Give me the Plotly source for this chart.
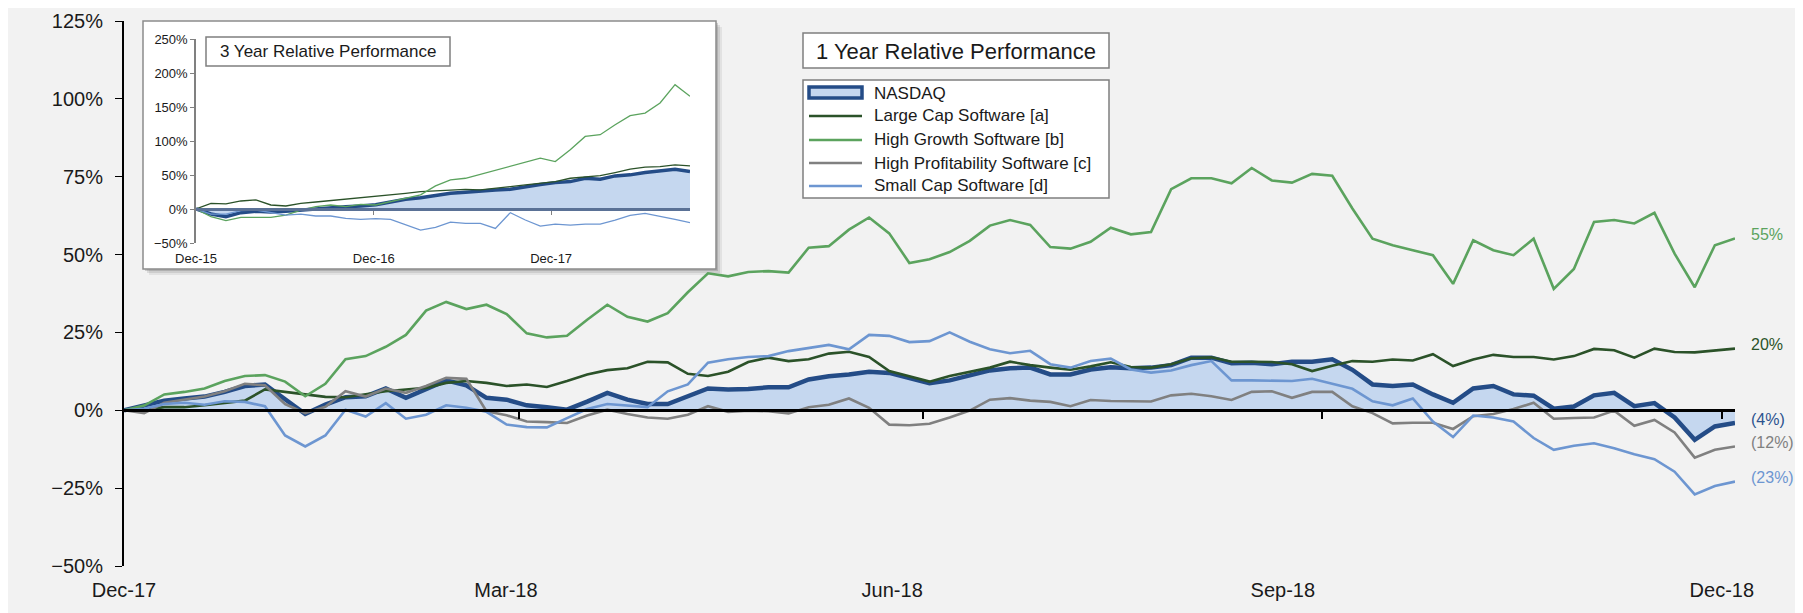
import pandas as pd
import plotly.graph_objects as go

# ---- 1 year relative performance (%), Dec-17 .. Dec-18 ----
dates_1y = pd.date_range("2017-12-29", "2018-12-31", periods=81)

nasdaq_1y = [0, 1.5, 3.1, 3.8, 4.4, 5.9, 7.8, 8.3, 3.4, -1.2, 1.8, 4.2, 4.5, 7.0, 4.0, 6.7, 9.6, 8.0, 4.0, 3.4,
             1.6, 1.0, 0.2, 2.8, 5.6, 3.4, 2.0, 2.0, 4.5, 7.0, 6.7, 6.8, 7.4, 7.4, 9.9, 10.9, 11.5, 12.4, 12.0,
             10.2, 8.7, 9.6, 11.3, 12.8, 13.5, 13.7, 11.5, 11.5, 13.1, 13.8, 13.5, 13.7, 14.5, 16.9, 16.9, 15.1, 15.3, 14.8,
             15.6, 15.6, 16.4, 13.0, 8.3, 7.8, 8.3, 5.1, 2.4, 7.0, 7.8, 5.1, 4.7, 0.5, 1.2, 4.8, 5.6, 1.3, 2.3, -2.3,
             -9.5, -5.2, -4.1]
large_cap_1y = [0, 0.1, 1.0, 1.0, 1.6, 2.4, 3.1, 6.7, 5.9, 5.3, 4.3, 4.2, 5.1, 6.1, 6.7, 7.2, 8.8, 9.4, 8.8, 7.8,
                8.3, 7.5, 9.4, 11.5, 12.9, 13.5, 15.6, 15.4, 11.7, 11.0, 12.4, 15.5, 16.9, 15.8, 16.4, 18.2, 18.8, 17.1, 12.6,
                11.0, 9.2, 11.0, 12.4, 13.7, 15.6, 14.5, 13.7, 13.0, 14.1, 15.4, 13.9, 13.7, 14.8, 16.7, 17.0, 15.6, 15.6, 15.5,
                14.8, 12.6, 14.3, 15.8, 15.6, 16.3, 16.0, 18.0, 14.2, 16.3, 17.8, 17.1, 17.1, 16.3, 17.4, 19.7, 19.3, 16.9,
                19.8, 18.7, 18.6, 19.3, 19.8]
high_growth_1y = [0, 1.5, 5.1, 5.9, 7.0, 9.4, 11.0, 11.3, 9.2, 4.5, 8.5, 16.4, 17.4, 20.4, 24.2, 32.0, 34.8, 32.5, 33.9, 30.9,
                  24.7, 23.4, 23.9, 29.1, 33.9, 30.0, 28.5, 31.2, 37.9, 44.0, 43.0, 44.4, 44.7, 44.2, 52.2, 52.7, 58.0, 61.9, 56.8,
                  47.3, 48.5, 50.8, 54.4, 59.3, 61.1, 59.5, 52.4, 51.9, 54.1, 58.6, 56.5, 57.2, 71.0, 74.5, 74.5, 72.9, 77.8, 73.8,
                  73.1, 75.9, 75.3, 64.8, 55.1, 53.0, 51.4, 49.8, 40.6, 54.6, 51.4, 49.8, 55.1, 39.0, 45.4, 60.5, 61.1, 60.0,
                  63.4, 50.3, 39.5, 53.0, 55.2]
high_profit_1y = [0, -0.9, 2.4, 3.3, 4.4, 6.1, 8.5, 8.0, 2.0, -0.9, 1.1, 6.1, 4.4, 7.0, 5.6, 7.8, 10.4, 10.1, -0.3, -1.6,
                  -3.6, -3.8, -4.1, -1.7, 0.2, -1.2, -2.3, -2.7, -1.4, 1.3, -0.5, -0.1, -0.3, -1.0, 1.0, 1.8, 3.8, 0.8, -4.6,
                  -4.8, -4.3, -2.3, -0.1, 3.4, 3.9, 3.1, 2.7, 1.3, 3.3, 3.0, 2.8, 2.8, 4.8, 5.3, 4.5, 3.3, 5.9, 6.1,
                  4.0, 5.9, 5.9, 1.3, -0.9, -4.2, -4.0, -4.0, -6.0, -1.9, -1.2, 0.4, 2.4, -2.7, -2.5, -2.3, -0.1, -5.0,
                  -3.1, -7.1, -15.2, -12.7, -11.6]
small_cap_1y = [0, 0.5, 2.0, 2.4, 1.8, 2.9, 2.7, 1.3, -8.1, -11.6, -8.1, 0.2, -2.0, 2.3, -2.7, -1.4, 1.6, 0.8, -0.5, -4.6,
                -5.4, -5.5, -2.5, 0.4, 2.0, 1.5, 1.0, 6.1, 8.3, 15.3, 16.4, 17.1, 17.4, 19.0, 19.9, 21.0, 19.6, 24.2, 23.9,
                21.9, 22.2, 25.0, 22.0, 19.6, 18.3, 19.1, 14.8, 13.7, 15.8, 16.6, 13.1, 12.1, 12.8, 14.5, 15.8, 9.6, 9.6, 9.5,
                9.4, 10.1, 8.6, 6.9, 2.9, 1.6, 3.8, -3.6, -8.6, -1.7, -2.3, -3.6, -8.9, -12.7, -11.4, -10.6, -12.2, -14.1,
                -15.7, -19.7, -27.0, -24.3, -22.9]

tick_dates_1y = ["2018-03-29", "2018-06-29", "2018-09-28", "2018-12-28"]
label_dates_1y = ["2017-12-29", "2018-03-26", "2018-06-22", "2018-09-19", "2018-12-28"]
label_text_1y = ["Dec-17", "Mar-18", "Jun-18", "Sep-18", "Dec-18"]

# ---- 3 year relative performance (%), inset, roughly monthly ----
dates_3y = pd.date_range("2015-12-31", "2018-10-10", periods=34)

nasdaq_3y = [0, -7.4, -11.3, -5.4, -3.4, -4.4, -3.4, -1.5, 0.5, 2.5, 3.4, 4.4, 6.4, 10.3, 14.3, 16.7, 20.2,
             23.1, 24.6, 26.6, 28.0, 29.0, 32.9, 35.9, 38.8, 40.3, 45.2, 43.8, 48.7, 50.2, 53.6, 56.5, 58.5, 55.0]
large_cap_3y = [0, 8.4, 7.4, 11.8, 13.3, 5.9, 4.4, 8.4, 10.3, 12.3, 15.2, 17.2, 18.2, 20.7, 23.1, 25.6, 27.0,
                28.0, 29.0, 28.0, 30.0, 32.9, 35.4, 37.9, 40.3, 45.2, 47.7, 49.2, 53.6, 58.5, 61.5, 62.4, 64.9, 63.4]
high_growth_3y = [0, -11.3, -17.2, -12.3, -12.3, -12.3, -8.9, -1.5, 3.4, 5.9, 3.4, 6.9, 5.9, 10.8, 15.7, 20.7, 33.9,
                  42.8, 45.2, 51.1, 57.5, 63.4, 69.8, 74.7, 69.8, 87.0, 106.7, 109.2, 123.9, 137.2, 141.1, 155.9, 182.9, 165.7]
small_cap_3y = [0, -7.4, -7.4, -2.5, -1.5, -5.4, -8.9, -7.4, -10.3, -10.3, -13.8, -15.2, -14.3, -15.2, -23.6, -31.0, -27.0,
                -19.2, -21.1, -21.1, -28.5, -5.4, -16.2, -25.1, -22.1, -23.6, -22.1, -22.1, -16.2, -9.3, -6.4, -10.3, -15.2, -20.2]

label_dates_3y = ["2015-12-31", "2016-12-30", "2017-12-29"]
label_text_3y = ["Dec-15", "Dec-16", "Dec-17"]

legend_names = ["NASDAQ", "Large Cap Software [a]", "High Growth Software [b]",
                "High Profitability Software [c]", "Small Cap Software [d]"]

NAVY = "#244c87"
FILL = "#c5d7ef"
DKGREEN = "#2b5229"
GREEN = "#5ba35e"
GRAY = "#808080"
LTBLUE = "#6d96d1"
BG = "#f2f2f2"
FONT = "Liberation Sans, Arial, sans-serif"
TXT = "#1a1a1a"

lines_1y = [(large_cap_1y, DKGREEN), (high_growth_1y, GREEN), (high_profit_1y, GRAY), (small_cap_1y, LTBLUE)]
lines_3y = [(large_cap_3y, DKGREEN), (high_growth_3y, GREEN), (small_cap_3y, LTBLUE)]

# page puts the figure 8px in from the window edge; pixel coords below are window coords
OFF = 8
W, H = 1803 - OFF, 613 - OFF
L, R, T, B = 124, 1735, 21, 566  # main plot area in window pixels
YMIN, YMAX = -50, 125


def fx(px):
    return (px - L) / (R - L)


def fy(py):
    return (B - py) / (B - T)


fig = go.Figure()

# main chart
fig.add_trace(go.Scatter(x=dates_1y, y=nasdaq_1y, mode="lines", fill="tozeroy", fillcolor=FILL,
                         line=dict(color=NAVY, width=4.5)))
for vals, col in lines_1y:
    fig.add_trace(go.Scatter(x=dates_1y, y=vals, mode="lines", line=dict(color=col, width=2.6)))

# inset chart
fig.add_trace(go.Scatter(x=dates_3y, y=nasdaq_3y, xaxis="x3", yaxis="y3", mode="lines", fill="tozeroy",
                         fillcolor=FILL, line=dict(color=NAVY, width=3.5)))
for vals, col in lines_3y:
    fig.add_trace(go.Scatter(x=dates_3y, y=vals, xaxis="x3", yaxis="y3", mode="lines",
                             line=dict(color=col, width=1.3)))

# invisible traces so the label-only axes get drawn
fig.add_trace(go.Scatter(x=dates_1y[:1], y=[0], xaxis="x2", yaxis="y", mode="markers",
                         marker=dict(opacity=0), hoverinfo="skip"))
fig.add_trace(go.Scatter(x=dates_3y[:1], y=[0], xaxis="x4", yaxis="y3", mode="markers",
                         marker=dict(opacity=0), hoverinfo="skip"))

# inset placement (pixels -> paper)
in_x0, in_x1 = fx(196), fx(690)
in_y0, in_y1 = fy(243), fy(39)
in_zero = in_y0 + (0 + 50) / 300 * (in_y1 - in_y0)

fig.update_layout(
    width=W, height=H,
    margin=dict(l=L - OFF, r=W - (R - OFF), t=T - OFF, b=H - (B - OFF), autoexpand=False),
    paper_bgcolor=BG, plot_bgcolor="rgba(0,0,0,0)",
    showlegend=False,
    font=dict(family=FONT, color=TXT),
    xaxis=dict(type="date", range=[dates_1y[0], dates_1y[-1]], anchor="free",
               position=(0 - YMIN) / (YMAX - YMIN), automargin=False,
               showline=True, linecolor="black", linewidth=3, showgrid=False, zeroline=False,
               ticks="outside", ticklen=7, tickwidth=1.5, tickcolor="black",
               tickvals=tick_dates_1y, showticklabels=False),
    xaxis2=dict(type="date", range=[dates_1y[0], dates_1y[-1]], overlaying="x", anchor="y", side="bottom",
                showline=False, showgrid=False, zeroline=False, ticks="", automargin=False,
                tickvals=label_dates_1y, ticktext=label_text_1y, tickfont=dict(size=20),
                ticklabelstandoff=10),
    yaxis=dict(range=[YMIN, YMAX], dtick=25, tick0=0, ticksuffix="%", showline=True, linecolor="black",
               linewidth=2, ticks="outside", ticklen=7, tickcolor="black", showgrid=False, zeroline=False,
               tickfont=dict(size=20), ticklabelstandoff=8, automargin=False),
    xaxis3=dict(type="date", domain=[in_x0, in_x1], range=[dates_3y[0], dates_3y[-1]], anchor="free",
                position=in_zero, showline=True, linecolor="#5a7196", linewidth=2.5, showgrid=False,
                zeroline=False, ticks="outside", ticklen=4, tickcolor="#808080", automargin=False,
                tickvals=label_dates_3y[1:], showticklabels=False),
    xaxis4=dict(type="date", domain=[in_x0, in_x1], range=[dates_3y[0], dates_3y[-1]], overlaying="x3",
                anchor="y3", side="bottom", showline=False, showgrid=False, zeroline=False, ticks="",
                automargin=False, tickvals=label_dates_3y, ticktext=label_text_3y, tickfont=dict(size=13),
                ticklabelstandoff=6),
    yaxis3=dict(domain=[in_y0, in_y1], anchor="x3", range=[-50, 250], dtick=50, tick0=0, ticksuffix="%",
                showline=True, linecolor="#808080", linewidth=1.5, ticks="outside", ticklen=4, automargin=False,
                tickcolor="#808080", showgrid=False, zeroline=False, tickfont=dict(size=13)),
)

shapes = []
# inset shadow + box
for off, op in [(6, 0.10), (4, 0.15), (2, 0.25)]:
    shapes.append(dict(type="rect", xref="paper", yref="paper", x0=fx(143 + off), x1=fx(716 + off),
                       y0=fy(269 + off), y1=fy(21 + off), line=dict(width=0),
                       fillcolor=f"rgba(90,90,90,{op})", layer="below"))
shapes.append(dict(type="rect", xref="paper", yref="paper", x0=fx(143), x1=fx(716), y0=fy(269), y1=fy(21),
                   line=dict(color="#8c8c8c", width=1.5), fillcolor="white", layer="below"))
# inset title box
shapes.append(dict(type="rect", xref="paper", yref="paper", x0=fx(206), x1=fx(450), y0=fy(66), y1=fy(37),
                   line=dict(color="#7f7f7f", width=1.5), fillcolor="white"))
# main title box + legend box
shapes.append(dict(type="rect", xref="paper", yref="paper", x0=fx(803), x1=fx(1109), y0=fy(68), y1=fy(33),
                   line=dict(color="#7f7f7f", width=1.5), fillcolor="white"))
shapes.append(dict(type="rect", xref="paper", yref="paper", x0=fx(803), x1=fx(1109), y0=fy(198), y1=fy(80),
                   line=dict(color="#7f7f7f", width=1.5), fillcolor="white"))

legend_rows = [93, 116, 140, 163, 186]
legend_cols = [None, DKGREEN, GREEN, GRAY, LTBLUE]
annotations = []
for row_y, col, name in zip(legend_rows, legend_cols, legend_names):
    if col is None:
        shapes.append(dict(type="rect", xref="paper", yref="paper", x0=fx(809), x1=fx(862),
                           y0=fy(row_y + 5), y1=fy(row_y - 6), fillcolor=FILL, line=dict(color=NAVY, width=3.5)))
    else:
        shapes.append(dict(type="line", xref="paper", yref="paper", x0=fx(809), x1=fx(862),
                           y0=fy(row_y), y1=fy(row_y), line=dict(color=col, width=2.6)))
    annotations.append(dict(xref="paper", yref="paper", x=fx(872), y=fy(row_y), text=name, showarrow=False,
                            xanchor="left", yanchor="middle", font=dict(size=17, color=TXT)))

annotations.append(dict(xref="paper", yref="paper", x=fx(956), y=fy(51), text="1 Year Relative Performance",
                        showarrow=False, xanchor="center", yanchor="middle", font=dict(size=22, color=TXT)))
annotations.append(dict(xref="paper", yref="paper", x=fx(328), y=fy(52), text="3 Year Relative Performance",
                        showarrow=False, xanchor="center", yanchor="middle", font=dict(size=17, color=TXT)))

# end-of-line value labels
end_series = [(high_growth_1y, GREEN), (large_cap_1y, DKGREEN), (nasdaq_1y, "#2c528e"),
              (high_profit_1y, GRAY), (small_cap_1y, LTBLUE)]
for vals, col in end_series:
    v = round(vals[-1])
    txt = f"{v}%" if v >= 0 else f"({-v}%)"
    annotations.append(dict(x=dates_1y[-1], y=vals[-1], xref="x", yref="y", text=txt, showarrow=False,
                            xanchor="left", yanchor="middle", xshift=14, yshift=4,
                            font=dict(size=16, color=col)))

fig.update_layout(shapes=shapes, annotations=annotations)

fig.write_html("out.html")
